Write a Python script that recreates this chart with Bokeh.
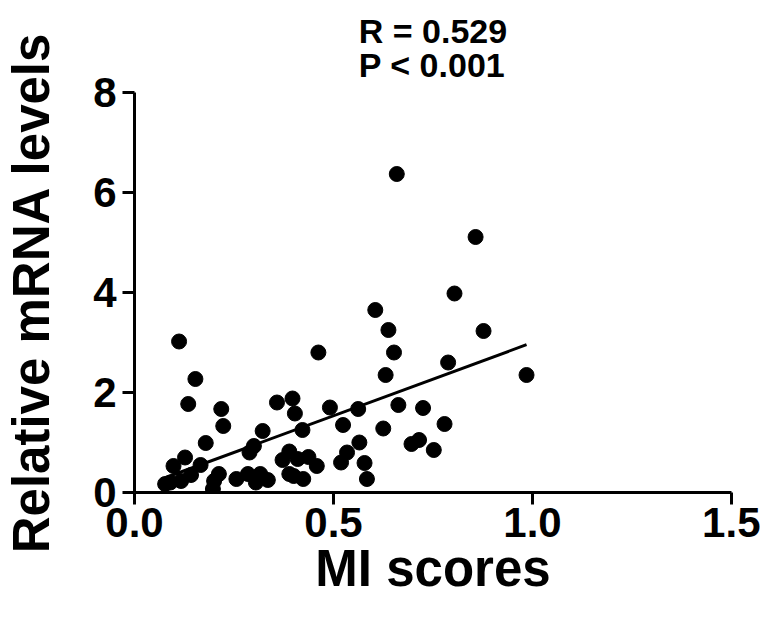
from bokeh.plotting import figure
from bokeh.models import Range1d, FixedTicker, Title
from bokeh.embed import file_html
from bokeh.resources import INLINE
import numpy as np

# ---- data ----
mi_scores = [0.112, 0.153, 0.135, 0.218, 0.223, 0.179, 0.127, 0.098, 0.166, 0.142,
             0.117, 0.077, 0.090, 0.212, 0.200, 0.197, 0.256, 0.285, 0.305, 0.316,
             0.335, 0.289, 0.300, 0.322, 0.358, 0.397, 0.403, 0.422, 0.372, 0.389,
             0.410, 0.437, 0.458, 0.389, 0.424, 0.400, 0.462, 0.491, 0.524, 0.534,
             0.519, 0.562, 0.565, 0.578, 0.584, 0.605, 0.638, 0.652, 0.631, 0.663,
             0.625, 0.659, 0.725, 0.696, 0.715, 0.752, 0.857, 0.804, 0.877, 0.788,
             0.985, 0.779]
mrna_levels = [3.02, 2.27, 1.77, 1.67, 1.33, 0.99, 0.70, 0.53, 0.55, 0.35,
               0.23, 0.17, 0.20, 0.37, 0.23, 0.07, 0.27, 0.37, 0.20, 0.37,
               0.25, 0.80, 0.93, 1.23, 1.80, 1.88, 1.58, 1.25, 0.65, 0.82,
               0.67, 0.71, 0.53, 0.37, 0.27, 0.33, 2.80, 1.70, 1.35, 0.80,
               0.60, 1.67, 1.00, 0.59, 0.27, 3.65, 3.25, 2.80, 2.35, 1.75,
               1.28, 6.37, 1.69, 0.97, 1.05, 0.85, 5.11, 3.98, 3.23, 2.60,
               2.35, 1.37]
fit_slope = 2.93
fit_intercept = 0.07
x_ticks = [0.0, 0.5, 1.0, 1.5]
x_tick_labels = {0.0: "0.0", 0.5: "0.5", 1.0: "1.0", 1.5: "1.5"}
y_ticks = [0, 2, 4, 6, 8]
stats_text = "R = 0.529\nP < 0.001"

FONT = "Liberation Sans"

p = figure(width=760, height=610, output_backend="svg", toolbar_location=None,
           x_range=Range1d(0, 1.5), y_range=Range1d(0, 8),
           min_border_left=130, min_border_right=29, min_border_top=92,
           min_border_bottom=118)
p.outline_line_color = None
p.grid.visible = False
p.background_fill_color = "white"
p.border_fill_color = "white"

# regression line over data extent
xs = np.array([min(mi_scores), max(mi_scores)])
p.line(xs, fit_intercept + fit_slope * xs, line_color="black", line_width=3)

p.scatter(mi_scores, mrna_levels, size=15, marker="circle",
          fill_color="black", line_color="black")

for ax in (p.xaxis[0], p.yaxis[0]):
    ax.axis_line_width = 3
    ax.axis_line_color = "black"
    ax.major_tick_line_width = 3
    ax.major_tick_line_color = "black"
    ax.major_tick_out = 12
    ax.major_tick_in = 0
    ax.minor_tick_line_color = None
    ax.major_label_text_font = FONT
    ax.major_label_text_font_style = "bold"
    ax.major_label_text_font_size = "42px"
    ax.major_label_text_color = "black"
    ax.axis_label_text_font = FONT
    ax.axis_label_text_font_style = "bold"
    ax.axis_label_text_font_size = "51px"
    ax.axis_label_text_color = "black"

p.xaxis.ticker = FixedTicker(ticks=x_ticks)
p.xaxis.major_label_overrides = x_tick_labels
p.yaxis.ticker = FixedTicker(ticks=y_ticks)
p.xaxis.axis_label = "MI scores"
p.yaxis.axis_label = "Relative mRNA levels"
p.xaxis.major_label_standoff = 3
p.xaxis.axis_label_standoff = 0
p.yaxis.major_label_standoff = 6
p.yaxis.axis_label_standoff = 30

p.title = Title(text=stats_text, align="center", text_font=FONT,
                text_font_style="bold", text_font_size="34px",
                text_color="black", text_line_height=0.9, standoff=17)

open("out.html", "w").write(file_html(p, INLINE))
